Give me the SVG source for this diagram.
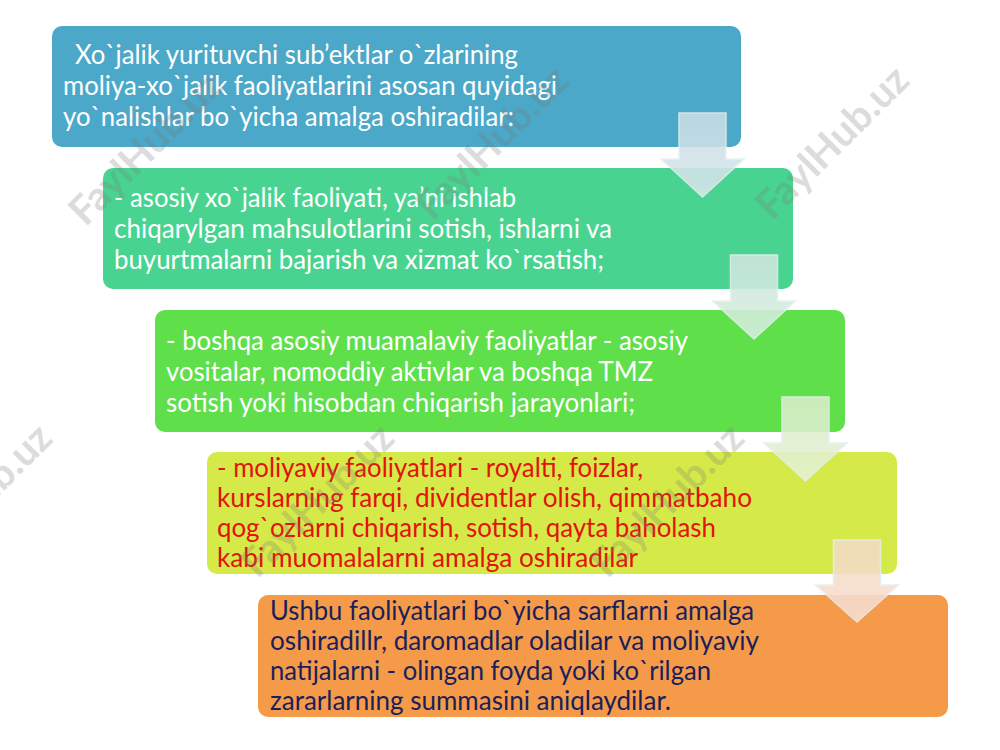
<svg xmlns="http://www.w3.org/2000/svg" width="1000" height="750" viewBox="0 0 1000 750">
<style>
.box{stroke:none}
.t{font-family:Lato,"Noto Sans","Liberation Sans",sans-serif;font-size:26px}
.w{fill:#ffffff}
.r{fill:#e3120b}
.n{fill:#1b1f5a}
.arrow{stroke:#e8eef0;stroke-width:1.5;opacity:0.88}
.wm{font-family:Lato,"Liberation Sans",sans-serif;font-weight:bold;font-size:40px;fill:#7a7a7a;opacity:0.26;text-anchor:middle}
</style>
<defs>
<linearGradient id="a1" x1="0" y1="0" x2="0" y2="1"><stop offset="0" stop-color="#c9dde5"/><stop offset="1" stop-color="#d8e7ec"/></linearGradient>
<linearGradient id="a2" x1="0" y1="0" x2="0" y2="1"><stop offset="0" stop-color="#cfe6e0"/><stop offset="1" stop-color="#d6efdc"/></linearGradient>
<linearGradient id="a3" x1="0" y1="0" x2="0" y2="1"><stop offset="0" stop-color="#d9edc9"/><stop offset="1" stop-color="#e6f2d6"/></linearGradient>
<linearGradient id="a4" x1="0" y1="0" x2="0" y2="1"><stop offset="0" stop-color="#f2dbc3"/><stop offset="1" stop-color="#f8dfd4"/></linearGradient>
</defs>
<rect width="1000" height="750" fill="#ffffff"/>

<g id="node1">
<rect class="box" x="52" y="26" width="689" height="121" rx="10" fill="#4ba8c8"/>
<text class="t w" x="75" y="64" textLength="443" lengthAdjust="spacingAndGlyphs">Xo`jalik yurituvchi sub’ektlar o`zlarining</text>
<text class="t w" x="63" y="95" textLength="494" lengthAdjust="spacingAndGlyphs">moliya-xo`jalik faoliyatlarini asosan quyidagi</text>
<text class="t w" x="63" y="126" textLength="451" lengthAdjust="spacingAndGlyphs">yo`nalishlar bo`yicha amalga oshiradilar:</text>
</g>

<g id="node2">
<rect class="box" x="103" y="168" width="690" height="121" rx="10" fill="#48d490"/>
<text class="t w" x="114" y="207" textLength="402" lengthAdjust="spacingAndGlyphs">- asosiy xo`jalik faoliyati, ya’ni ishlab</text>
<text class="t w" x="114" y="238" textLength="498" lengthAdjust="spacingAndGlyphs">chiqarylgan mahsulotlarini sotish, ishlarni va</text>
<text class="t w" x="114" y="269" textLength="490" lengthAdjust="spacingAndGlyphs">buyurtmalarni bajarish va xizmat ko`rsatish;</text>
</g>

<g id="node3">
<rect class="box" x="155" y="310" width="690" height="122" rx="10" fill="#5fe04b"/>
<text class="t w" x="166" y="350" textLength="522" lengthAdjust="spacingAndGlyphs">- boshqa asosiy muamalaviy faoliyatlar - asosiy</text>
<text class="t w" x="166" y="381" textLength="487" lengthAdjust="spacingAndGlyphs">vositalar, nomoddiy aktivlar va boshqa TMZ</text>
<text class="t w" x="166" y="412" textLength="469" lengthAdjust="spacingAndGlyphs">sotish yoki hisobdan chiqarish jarayonlari;</text>
</g>

<g id="node4">
<rect class="box" x="207" y="452" width="690" height="122" rx="10" fill="#d5ea48"/>
<text class="t r" x="217" y="477" textLength="426" lengthAdjust="spacingAndGlyphs">- moliyaviy faoliyatlari - royalti, foizlar,</text>
<text class="t r" x="217" y="507" textLength="535" lengthAdjust="spacingAndGlyphs">kurslarning farqi, dividentlar olish, qimmatbaho</text>
<text class="t r" x="217" y="537" textLength="499" lengthAdjust="spacingAndGlyphs">qog`ozlarni chiqarish, sotish, qayta baholash</text>
<text class="t r" x="217" y="567" textLength="421" lengthAdjust="spacingAndGlyphs">kabi muomalalarni amalga oshiradilar</text>
</g>

<g id="node5">
<rect class="box" x="258" y="595" width="690" height="122" rx="10" fill="#f59a48"/>
<text class="t n" x="270" y="620" textLength="484" lengthAdjust="spacingAndGlyphs">Ushbu faoliyatlari bo`yicha sarflarni amalga</text>
<text class="t n" x="270" y="650" textLength="489" lengthAdjust="spacingAndGlyphs">oshiradillr, daromadlar oladilar va moliyaviy</text>
<text class="t n" x="270" y="680" textLength="441" lengthAdjust="spacingAndGlyphs">natijalarni - olingan foyda yoki ko`rilgan</text>
<text class="t n" x="270" y="710" textLength="401" lengthAdjust="spacingAndGlyphs">zararlarning summasini aniqlaydilar.</text>
</g>

<g id="connectors">
<path class="arrow" fill="url(#a1)" d="M679,113 H726 V159 H744 L702.5,197 L661,159 H679 Z"/>
<path class="arrow" fill="url(#a2)" d="M730.5,255 H777.5 V301 H795.5 L754,339 L712.5,301 H730.5 Z"/>
<path class="arrow" fill="url(#a3)" d="M782,397 H829 V443 H847 L805.5,481 L764,443 H782 Z"/>
<path class="arrow" fill="url(#a4)" d="M833.5,540 H880.5 V585 H898.5 L857,622 L815.5,585 H833.5 Z"/>
</g>

<g id="watermarks">
<text class="wm" transform="translate(145,148) rotate(-45)" y="14">FaylHub.uz</text>
<text class="wm" transform="translate(492,142) rotate(-45)" y="14">FaylHub.uz</text>
<text class="wm" transform="translate(832,142) rotate(-45)" y="14">FaylHub.uz</text>
<text class="wm" transform="translate(-25,500) rotate(-45)" y="14">FaylHub.uz</text>
<text class="wm" transform="translate(317,500) rotate(-45)" y="14">FaylHub.uz</text>
<text class="wm" transform="translate(667,500) rotate(-45)" y="14">FaylHub.uz</text>
</g>
</svg>
